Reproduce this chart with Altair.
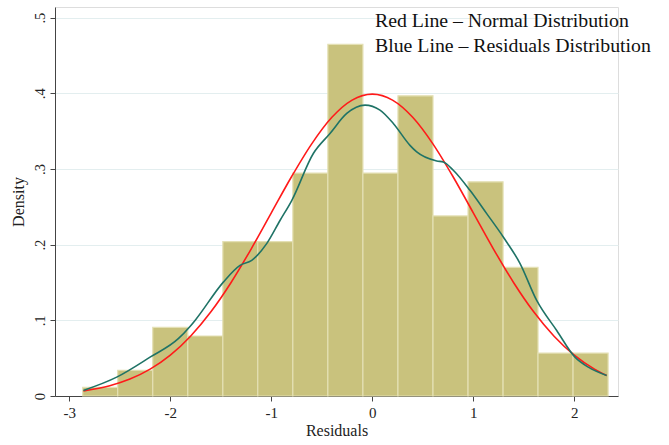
import altair as alt
import pandas as pd

# Histogram (density)
bin_edges = [-2.868, -2.521, -2.174, -1.827, -1.480, -1.134, -0.787, -0.440,
             -0.093, 0.254, 0.601, 0.948, 1.295, 1.641, 1.988, 2.335]
densities = [0.0113, 0.034, 0.0906, 0.0793, 0.204, 0.204, 0.2946, 0.4645,
             0.2946, 0.3966, 0.238, 0.283, 0.170, 0.0567, 0.0567]

# Red line - normal distribution
normal_x = [-2.86, -2.6, -2.4, -2.2, -2.0, -1.8, -1.6, -1.4, -1.2, -1.0, -0.8,
            -0.6, -0.4, -0.2, 0.0, 0.2, 0.4, 0.6, 0.8, 1.0, 1.2, 1.4, 1.6,
            1.8, 2.0, 2.2, 2.32]
normal_y = [0.0067, 0.0136, 0.0224, 0.0355, 0.0540, 0.0790, 0.1109, 0.1497,
            0.1942, 0.2420, 0.2897, 0.3332, 0.3683, 0.3910, 0.3989, 0.3910,
            0.3683, 0.3332, 0.2897, 0.2420, 0.1942, 0.1497, 0.1109, 0.0790,
            0.0540, 0.0355, 0.0270]

# Blue line - residuals kernel density
kde_x = [-2.861, -2.531, -2.201, -1.921, -1.805, -1.755, -1.475, -1.310,
         -1.194, -1.046, -0.914, -0.798, -0.584, -0.419, -0.253, -0.072,
         0.076, 0.208, 0.373, 0.440, 0.638, 0.703, 0.802, 0.967, 1.133,
         1.297, 1.462, 1.628, 1.826, 2.007, 2.139, 2.321]
kde_y = [0.0073, 0.0249, 0.0513, 0.0757, 0.0919, 0.0999, 0.1505, 0.1726,
         0.1792, 0.2013, 0.2319, 0.2583, 0.3204, 0.3468, 0.3733, 0.3843,
         0.3777, 0.3601, 0.3312, 0.3225, 0.3106, 0.3093, 0.2983, 0.2718,
         0.2410, 0.2101, 0.1753, 0.1263, 0.0866, 0.0513, 0.0381, 0.0271]

x_ticks = [-3, -2, -1, 0, 1, 2]
y_ticks = [0, 0.1, 0.2, 0.3, 0.4, 0.5]

legend_lines = ["Red Line \u2013 Normal Distribution",
                "Blue Line \u2013 Residuals Distribution"]
legend_y = [0.487, 0.455]

FONT = "Liberation Serif"

bars_df = pd.DataFrame({"x0": bin_edges[:-1], "x1": bin_edges[1:], "d": densities})
normal_df = pd.DataFrame({"x": normal_x, "y": normal_y})
kde_df = pd.DataFrame({"x": kde_x, "y": kde_y})
text_df = pd.DataFrame({"t": legend_lines, "x": [0.027, 0.027], "y": legend_y})

xscale = alt.Scale(domain=[-3.142, 2.433], nice=False, zero=False)
yscale = alt.Scale(domain=[0, 0.514], nice=False)

xaxis = alt.Axis(values=x_ticks, title="Residuals", grid=False, labelFont=FONT,
                 titleFont=FONT, labelFontSize=15, titleFontSize=16,
                 titleFontWeight="normal", labelColor="#222", titleColor="#222",
                 domainColor="#444", tickColor="#444", tickSize=5,
                 labelPadding=4, titlePadding=2, labelFlush=False,
                 labelExpr="'' + datum.value")
yaxis = alt.Axis(values=y_ticks, title="Density", grid=True, gridColor="#e3eeef",
                 gridWidth=1, labelFont=FONT, titleFont=FONT, labelFontSize=14.5,
                 titleFontSize=16, titleFontWeight="normal", labelColor="#222",
                 titleColor="#222", domainColor="#444", tickColor="#444",
                 tickSize=5, labelAngle=270, labelAlign="center",
                 labelBaseline="bottom", labelPadding=3, titlePadding=6,
                 labelExpr="datum.value == 0 ? '0' : '.' + round(datum.value*10)")

bars = alt.Chart(bars_df).mark_rect(color="#c9c27d", stroke="#e4e0b4",
                                     strokeWidth=1.2).encode(
    x=alt.X("x0:Q", scale=xscale, axis=xaxis),
    x2="x1:Q",
    y=alt.Y("d:Q", scale=yscale, axis=yaxis),
    y2=alt.datum(0),
)

normal = alt.Chart(normal_df).mark_line(color="#ff1a1a", strokeWidth=1.6,
                                        interpolate="monotone").encode(
    x=alt.X("x:Q", scale=xscale), y=alt.Y("y:Q", scale=yscale))

kde = alt.Chart(kde_df).mark_line(color="#1f7366", strokeWidth=1.6,
                                  interpolate="monotone").encode(
    x=alt.X("x:Q", scale=xscale), y=alt.Y("y:Q", scale=yscale))

text = alt.Chart(text_df).mark_text(font=FONT, fontSize=19.8, align="left",
                                    baseline="alphabetic", color="#111").encode(
    x=alt.X("x:Q", scale=xscale), y=alt.Y("y:Q", scale=yscale), text="t:N")

chart = alt.layer(bars, normal, kde, text).properties(
    width=563, height=389,
    autosize=alt.AutoSizeParams(type="none"),
    padding={"left": 55, "top": 7, "right": 51, "bottom": 49},
).configure_view(stroke=None).configure(background="white")

chart.save("out.html", embed_options={"renderer": "svg", "actions": False})
